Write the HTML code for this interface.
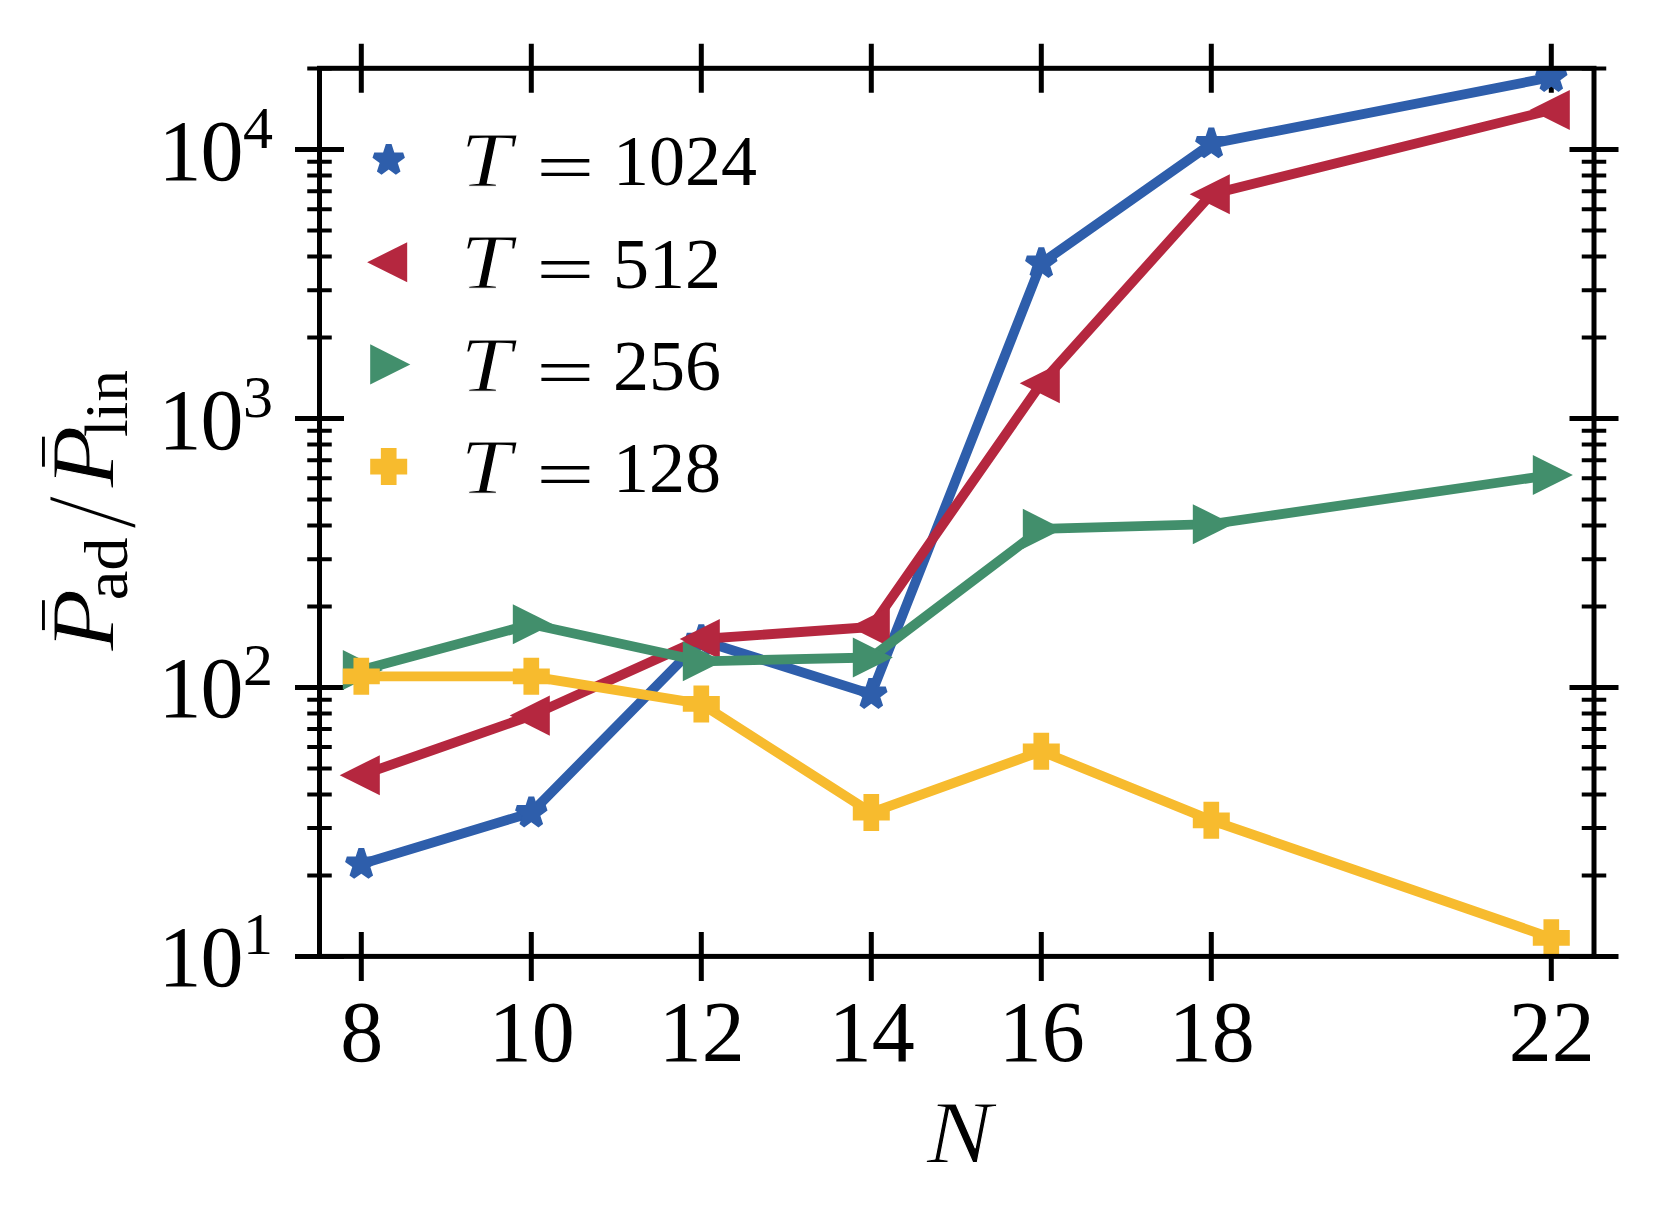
<!DOCTYPE html>
<html lang="en"><head><meta charset="utf-8"><title>Pad/Plin vs N</title>
<style>html,body{margin:0;padding:0;background:#fff}svg{display:block}text{font-family:"Liberation Serif", serif;fill:#000}.it{font-style:italic;stroke:#fff;stroke-width:1px;stroke-linejoin:round}</style></head><body>
<svg width="1662" height="1222" viewBox="0 0 1662 1222">
<rect width="1662" height="1222" fill="#fff"/>
<defs><clipPath id="ax"><rect x="319.50" y="68.30" width="1274.50" height="888.10"/></clipPath>
</defs>
<g stroke="#000" fill="none" stroke-linecap="butt">
<path stroke-width="5.00" d="M361.30 43.80V92.80M361.30 931.90V980.90M531.30 43.80V92.80M531.30 931.90V980.90M701.30 43.80V92.80M701.30 931.90V980.90M871.30 43.80V92.80M871.30 931.90V980.90M1041.30 43.80V92.80M1041.30 931.90V980.90M1211.30 43.80V92.80M1211.30 931.90V980.90M1551.30 43.80V92.80M1551.30 931.90V980.90M295.00 956.40H344.00M1569.50 956.40H1618.50M295.00 687.45H344.00M1569.50 687.45H1618.50M295.00 418.50H344.00M1569.50 418.50H1618.50M295.00 149.55H344.00M1569.50 149.55H1618.50"/>
<path stroke-width="4.00" d="M307.25 875.44H331.75M1581.75 875.44H1606.25M307.25 828.08H331.75M1581.75 828.08H1606.25M307.25 794.48H331.75M1581.75 794.48H1606.25M307.25 768.41H331.75M1581.75 768.41H1606.25M307.25 747.12H331.75M1581.75 747.12H1606.25M307.25 729.11H331.75M1581.75 729.11H1606.25M307.25 713.51H331.75M1581.75 713.51H1606.25M307.25 699.76H331.75M1581.75 699.76H1606.25M307.25 606.49H331.75M1581.75 606.49H1606.25M307.25 559.13H331.75M1581.75 559.13H1606.25M307.25 525.53H331.75M1581.75 525.53H1606.25M307.25 499.46H331.75M1581.75 499.46H1606.25M307.25 478.17H331.75M1581.75 478.17H1606.25M307.25 460.16H331.75M1581.75 460.16H1606.25M307.25 444.56H331.75M1581.75 444.56H1606.25M307.25 430.81H331.75M1581.75 430.81H1606.25M307.25 337.54H331.75M1581.75 337.54H1606.25M307.25 290.18H331.75M1581.75 290.18H1606.25M307.25 256.58H331.75M1581.75 256.58H1606.25M307.25 230.51H331.75M1581.75 230.51H1606.25M307.25 209.22H331.75M1581.75 209.22H1606.25M307.25 191.21H331.75M1581.75 191.21H1606.25M307.25 175.61H331.75M1581.75 175.61H1606.25M307.25 161.86H331.75M1581.75 161.86H1606.25M307.25 68.59H331.75M1581.75 68.59H1606.25"/>
</g>
<g clip-path="url(#ax)">
<g fill="#2e5eab"><polyline points="361.30,864.15 531.30,812.70 701.30,640.40 871.30,694.20 1041.30,263.30 1211.30,143.65 1551.30,77.20" fill="none" stroke="#2e5eab" stroke-width="9.80" stroke-linejoin="round" stroke-linecap="butt"/>
<polygon points="358.45,848.02 364.15,848.02 366.89,856.45 375.76,856.45 377.52,861.88 370.35,867.09 373.09,875.52 368.47,878.87 361.30,873.66 354.13,878.87 349.51,875.52 352.25,867.09 345.08,861.88 346.84,856.45 355.71,856.45"/>
<polygon points="528.45,796.57 534.15,796.57 536.89,805.00 545.76,805.00 547.52,810.43 540.35,815.64 543.09,824.07 538.47,827.42 531.30,822.21 524.13,827.42 519.51,824.07 522.25,815.64 515.08,810.43 516.84,805.00 525.71,805.00"/>
<polygon points="698.45,624.27 704.15,624.27 706.89,632.70 715.76,632.70 717.52,638.13 710.35,643.34 713.09,651.77 708.47,655.12 701.30,649.91 694.13,655.12 689.51,651.77 692.25,643.34 685.08,638.13 686.84,632.70 695.71,632.70"/>
<polygon points="868.45,678.07 874.15,678.07 876.89,686.50 885.76,686.50 887.52,691.93 880.35,697.14 883.09,705.57 878.47,708.92 871.30,703.71 864.13,708.92 859.51,705.57 862.25,697.14 855.08,691.93 856.84,686.50 865.71,686.50"/>
<polygon points="1038.45,247.17 1044.15,247.17 1046.89,255.60 1055.76,255.60 1057.52,261.03 1050.35,266.24 1053.09,274.67 1048.47,278.02 1041.30,272.81 1034.13,278.02 1029.51,274.67 1032.25,266.24 1025.08,261.03 1026.84,255.60 1035.71,255.60"/>
<polygon points="1208.45,127.52 1214.15,127.52 1216.89,135.95 1225.76,135.95 1227.52,141.38 1220.35,146.59 1223.09,155.02 1218.47,158.37 1211.30,153.16 1204.13,158.37 1199.51,155.02 1202.25,146.59 1195.08,141.38 1196.84,135.95 1205.71,135.95"/>
<polygon points="1548.45,61.07 1554.15,61.07 1556.89,69.50 1565.76,69.50 1567.52,74.93 1560.35,80.14 1563.09,88.57 1558.47,91.92 1551.30,86.71 1544.13,91.92 1539.51,88.57 1542.25,80.14 1535.08,74.93 1536.84,69.50 1545.71,69.50"/>
</g>
<g fill="#b5273f"><polyline points="361.30,775.20 531.30,715.60 701.30,639.00 871.30,627.00 1041.30,383.20 1211.30,194.20 1551.30,110.00" fill="none" stroke="#b5273f" stroke-width="9.80" stroke-linejoin="round" stroke-linecap="butt"/>
<polygon points="339.70,775.20 379.80,755.15 379.80,795.25"/>
<polygon points="509.70,715.60 549.80,695.55 549.80,735.65"/>
<polygon points="679.70,639.00 719.80,618.95 719.80,659.05"/>
<polygon points="849.70,627.00 889.80,606.95 889.80,647.05"/>
<polygon points="1019.70,383.20 1059.80,363.15 1059.80,403.25"/>
<polygon points="1189.70,194.20 1229.80,174.15 1229.80,214.25"/>
<polygon points="1529.70,110.00 1569.80,89.95 1569.80,130.05"/>
</g>
<g fill="#428f6c"><polyline points="361.30,670.00 531.30,624.30 701.30,661.30 871.30,657.50 1041.30,528.90 1211.30,524.20 1551.30,475.00" fill="none" stroke="#428f6c" stroke-width="9.80" stroke-linejoin="round" stroke-linecap="butt"/>
<polygon points="382.90,670.00 342.80,649.95 342.80,690.05"/>
<polygon points="552.90,624.30 512.80,604.25 512.80,644.35"/>
<polygon points="722.90,661.30 682.80,641.25 682.80,681.35"/>
<polygon points="892.90,657.50 852.80,637.45 852.80,677.55"/>
<polygon points="1062.90,528.90 1022.80,508.85 1022.80,548.95"/>
<polygon points="1232.90,524.20 1192.80,504.15 1192.80,544.25"/>
<polygon points="1572.90,475.00 1532.80,454.95 1532.80,495.05"/>
</g>
<g fill="#f7bb2e"><polyline points="361.30,676.30 531.30,676.30 701.30,703.90 871.30,812.60 1041.30,751.30 1211.30,820.30 1551.30,937.80" fill="none" stroke="#f7bb2e" stroke-width="9.80" stroke-linejoin="round" stroke-linecap="butt"/>
<polygon points="353.45,657.80 369.15,657.80 369.15,668.45 379.80,668.45 379.80,684.15 369.15,684.15 369.15,694.80 353.45,694.80 353.45,684.15 342.80,684.15 342.80,668.45 353.45,668.45"/>
<polygon points="523.45,657.80 539.15,657.80 539.15,668.45 549.80,668.45 549.80,684.15 539.15,684.15 539.15,694.80 523.45,694.80 523.45,684.15 512.80,684.15 512.80,668.45 523.45,668.45"/>
<polygon points="693.45,685.40 709.15,685.40 709.15,696.05 719.80,696.05 719.80,711.75 709.15,711.75 709.15,722.40 693.45,722.40 693.45,711.75 682.80,711.75 682.80,696.05 693.45,696.05"/>
<polygon points="863.45,794.10 879.15,794.10 879.15,804.75 889.80,804.75 889.80,820.45 879.15,820.45 879.15,831.10 863.45,831.10 863.45,820.45 852.80,820.45 852.80,804.75 863.45,804.75"/>
<polygon points="1033.45,732.80 1049.15,732.80 1049.15,743.45 1059.80,743.45 1059.80,759.15 1049.15,759.15 1049.15,769.80 1033.45,769.80 1033.45,759.15 1022.80,759.15 1022.80,743.45 1033.45,743.45"/>
<polygon points="1203.45,801.80 1219.15,801.80 1219.15,812.45 1229.80,812.45 1229.80,828.15 1219.15,828.15 1219.15,838.80 1203.45,838.80 1203.45,828.15 1192.80,828.15 1192.80,812.45 1203.45,812.45"/>
<polygon points="1543.45,919.30 1559.15,919.30 1559.15,929.95 1569.80,929.95 1569.80,945.65 1559.15,945.65 1559.15,956.30 1543.45,956.30 1543.45,945.65 1532.80,945.65 1532.80,929.95 1543.45,929.95"/>
</g>
</g>
<rect x="319.50" y="68.30" width="1274.50" height="888.10" fill="none" stroke="#000" stroke-width="5.00" stroke-linejoin="miter"/>
<text x="158.6" y="986.40" font-size="86">1<tspan dx="-1.2">0</tspan></text>
<text x="243" y="954.40" font-size="60">1</text>
<text x="158.6" y="717.45" font-size="86">1<tspan dx="-1.2">0</tspan></text>
<text x="243" y="685.45" font-size="60">2</text>
<text x="158.6" y="448.50" font-size="86">1<tspan dx="-1.2">0</tspan></text>
<text x="243" y="416.50" font-size="60">3</text>
<text x="158.6" y="179.55" font-size="86">1<tspan dx="-1.2">0</tspan></text>
<text x="243" y="147.55" font-size="60">4</text>
<text x="361.80" y="1061.3" font-size="86" text-anchor="middle">8</text>
<text x="531.80" y="1061.3" font-size="86" text-anchor="middle">10</text>
<text x="701.80" y="1061.3" font-size="86" text-anchor="middle">12</text>
<text x="871.80" y="1061.3" font-size="86" text-anchor="middle">14</text>
<text x="1041.80" y="1061.3" font-size="86" text-anchor="middle">16</text>
<text x="1211.80" y="1061.3" font-size="86" text-anchor="middle">18</text>
<text x="1551.80" y="1061.3" font-size="86" text-anchor="middle">22</text>
<text class="it" transform="translate(926.8,1161.8) scale(1.1,1)" font-size="89.4">N</text>
<g transform="translate(113.6,651) rotate(-90)">
<text class="it" transform="translate(0,0.5) scale(1.13,1)" font-size="90.4">P</text>
<text transform="translate(50.7,13.7) scale(1.101,1)" font-size="60.7">ad</text>
<text transform="translate(123.4,20) skewX(-8.4) scale(0.663,1.267)" font-size="100">/</text>
<text class="it" transform="translate(163.2,0.5) scale(1.13,1)" font-size="90.4">P</text>
<text transform="translate(213.9,13.7) scale(1.046,1)" font-size="60.7">lin</text>
<rect x="20.9" y="-71.6" width="29.9" height="2.9" fill="#000"/>
<rect x="184.3" y="-71.6" width="30" height="2.9" fill="#000"/>
</g>
<polygon points="385.85,143.97 391.55,143.97 394.29,152.40 403.16,152.40 404.92,157.83 397.75,163.04 400.49,171.47 395.87,174.82 388.70,169.61 381.53,174.82 376.91,171.47 379.65,163.04 372.48,157.83 374.24,152.40 383.11,152.40" fill="#2e5eab"/>
<text class="it" transform="translate(460.6,186.10) scale(1.19,1)" font-size="77.4">T</text>
<text transform="translate(536.25,189.90) scale(1.4306,0.9444)" font-size="72">=</text>
<text x="613" y="185.40" font-size="72">1024</text>
<polygon points="367.10,262.25 407.20,242.20 407.20,282.30" fill="#b5273f"/>
<text class="it" transform="translate(460.6,288.40) scale(1.19,1)" font-size="77.4">T</text>
<text transform="translate(536.25,292.20) scale(1.4306,0.9444)" font-size="72">=</text>
<text x="613" y="287.70" font-size="72">512</text>
<polygon points="410.30,364.40 370.20,344.35 370.20,384.45" fill="#428f6c"/>
<text class="it" transform="translate(460.6,390.70) scale(1.19,1)" font-size="77.4">T</text>
<text transform="translate(536.25,394.50) scale(1.4306,0.9444)" font-size="72">=</text>
<text x="613" y="390.00" font-size="72">256</text>
<polygon points="380.85,448.05 396.55,448.05 396.55,458.70 407.20,458.70 407.20,474.40 396.55,474.40 396.55,485.05 380.85,485.05 380.85,474.40 370.20,474.40 370.20,458.70 380.85,458.70" fill="#f7bb2e"/>
<text class="it" transform="translate(460.6,493.00) scale(1.19,1)" font-size="77.4">T</text>
<text transform="translate(536.25,496.80) scale(1.4306,0.9444)" font-size="72">=</text>
<text x="613" y="492.30" font-size="72">128</text>
</svg></body></html>
